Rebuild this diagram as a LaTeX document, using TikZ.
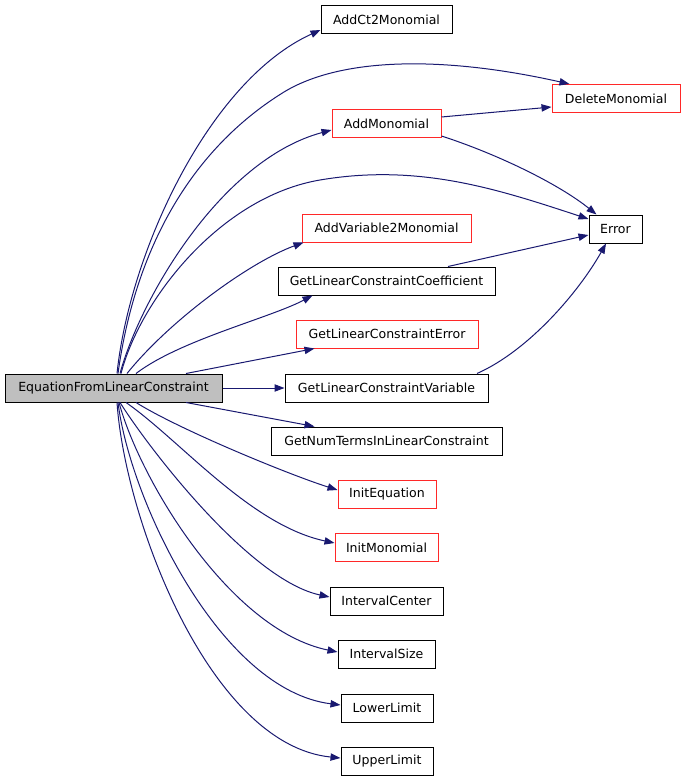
\documentclass[tikz,border=0pt]{standalone}
\usepackage{fontspec}
\setmainfont{DejaVu Sans}
\usetikzlibrary{arrows.meta,calc}
\definecolor{edgeblue}{RGB}{25,25,112}
\definecolor{boxred}{RGB}{255,40,40}
\definecolor{boxgray}{RGB}{191,191,191}
\begin{document}
\begin{tikzpicture}[x=0.75pt,y=-0.75pt,
  box/.style={draw=black, line width=0.75pt, minimum height=21pt, inner sep=0pt,
    fill=white, font=\fontsize{9.4}{11}\selectfont},
  redbox/.style={box, draw=boxred},
  bw/.style={minimum width=#1*0.75pt},
  edge/.style={draw=edgeblue, line width=0.75pt, -{Triangle[length=7.5pt,width=5.5pt]}}]
\useasboundingbox (0,0) rectangle (683,781);
% nodes
\node[box, fill=boxgray, bw=217] (E) at (113.5,388) {EquationFromLinearConstraint};
\node[box, bw=131] (ACt) at (386.5,20) {AddCt2Monomial};
\node[redbox, bw=128] (Del) at (616,98.5) {DeleteMonomial};
\node[redbox, bw=109] (AM) at (386.5,123.5) {AddMonomial};
\node[box, bw=53] (Err) at (615.5,229) {Error};
\node[redbox, bw=169] (AV) at (386.5,228) {AddVariable2Monomial};
\node[box, bw=217] (GLCC) at (386.5,281) {GetLinearConstraintCoefficient};
\node[redbox, bw=182] (GLCE) at (387,334) {GetLinearConstraintError};
\node[box, bw=203] (GLCV) at (386.5,388) {GetLinearConstraintVariable};
\node[box, bw=231] (GNT) at (386.5,441) {GetNumTermsInLinearConstraint};
\node[redbox, bw=98] (IE) at (387,494) {InitEquation};
\node[redbox, bw=103] (IM) at (386.5,547.5) {InitMonomial};
\node[box, bw=113] (IC) at (386.5,601) {IntervalCenter};
\node[box, bw=97] (IS) at (386.5,654) {IntervalSize};
\node[box, bw=92] (LL) at (387,708) {LowerLimit};
\node[box, bw=92] (UL) at (387,761) {UpperLimit};
% edges from E (upwards)
\draw[edge] ($(E.north)+(3.5,0)$) .. controls (130,250) and (210,80) .. ($(ACt.west)+(0,10)$);
\draw[edge] ($(E.north)+(4.5,0)$) .. controls (135,250) and (190,150) .. (284,92)
  .. controls (340,58) and (440,55) .. ($(Del.north west)+(18,0)$);
\draw[edge] ($(E.north)+(6.5,0)$) .. controls (140,300) and (220,160) .. ($(AM.west)+(0,6.5)$);
\draw[edge] ($(E.north)+(7.5,0)$) .. controls (140,300) and (220,197) .. (320,180)
  .. controls (420,163) and (500,190) .. ($(Err.west)+(0,-10)$);
\draw[edge] ($(E.north)+(13.5,0)$) .. controls (170,320) and (250,262) .. ($(AV.south west)+(2,0)$);
\draw[edge] ($(E.north)+(22.5,0)$) .. controls (180,340) and (270,318) .. ($(GLCC.south west)+(35,0)$);
\draw[edge] ($(E.north)+(72.5,0)$) -- ($(GLCE.south west)+(19,0)$);
\draw[edge] (E.east) -- (GLCV.west);
% edges from E (downwards)
\draw[edge] ($(E.south)+(72.5,0)$) -- ($(GNT.north west)+(44,0)$);
\draw[edge] ($(E.south)+(22.5,0)$) .. controls (180,430) and (290,475) .. ($(IE.west)+(0,-4)$);
\draw[edge] ($(E.south)+(12.5,0)$) .. controls (180,440) and (250,525) .. ($(IM.west)+(0,-4.5)$);
\draw[edge] ($(E.south)+(6.5,0)$) .. controls (150,450) and (250,580) .. ($(IC.west)+(0,-4)$);
\draw[edge] ($(E.south)+(5.5,0)$) .. controls (140,480) and (230,630) .. ($(IS.west)+(0,-2)$);
\draw[edge] ($(E.south)+(4.5,0)$) .. controls (130,500) and (220,690) .. ($(LL.west)+(0,-3)$);
\draw[edge] ($(E.south)+(3.5,0)$) .. controls (125,520) and (210,745) .. ($(UL.west)+(0,-3)$);
% other edges
\draw[edge] ($(AM.east)+(0,-6.5)$) -- ($(Del.west)+(0,8.5)$);
\draw[edge] ($(AM.south east)+(0,-2)$) .. controls (500,155) and (560,185) .. ($(Err.north west)+(8,0)$);
\draw[edge] ($(GLCC.north)+(61.5,0)$) -- ($(Err.west)+(0,6)$);
\draw[edge] ($(GLCV.north)+(90.5,0)$) .. controls (530,350) and (580,290) .. ($(Err.south)+(-9.5,0)$);
\end{tikzpicture}
\end{document}
